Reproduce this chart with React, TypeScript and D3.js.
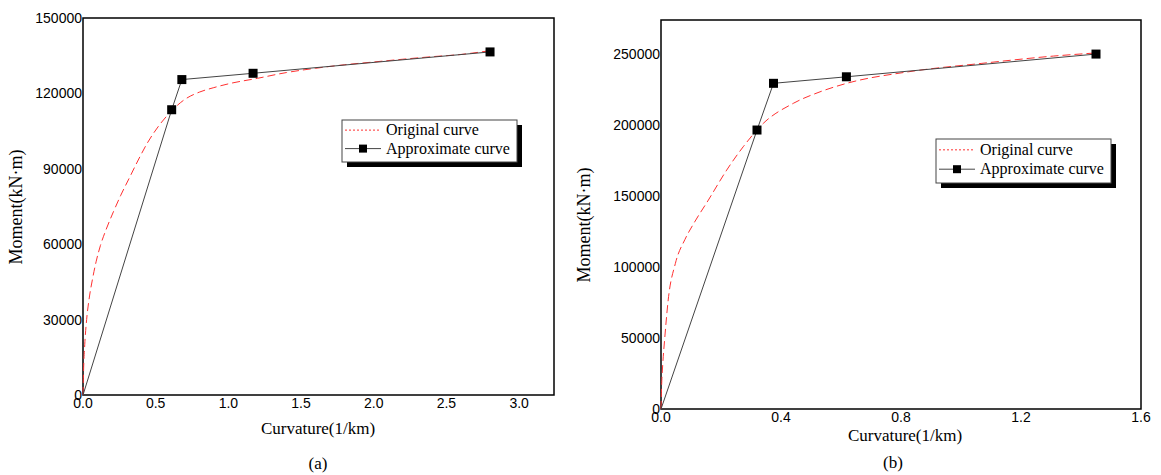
import React, { useRef, useEffect } from "react";
import * as d3 from "d3";

// panel (a): curvature (1/km) vs moment (kN·m)
const originalA: [number, number][] = [
  [0, 0], [0.004, 10000], [0.012, 20000], [0.025, 30000], [0.041, 37800],
  [0.065, 46000], [0.09, 53000], [0.12, 59500], [0.16, 66000], [0.21, 73000],
  [0.26, 79500], [0.32, 86500], [0.38, 93500], [0.44, 100000], [0.52, 107000],
  [0.6, 112500], [0.7, 117600], [0.8, 120500], [0.9, 122300], [1.0, 123800],
  [1.2, 126000], [1.4, 128300], [1.6, 130000], [1.8, 131400], [2.0, 132500],
  [2.2, 133600], [2.4, 134600], [2.6, 135500], [2.8, 137000],
];
const approxA: [number, number][] = [
  [0, 0], [0.61, 113500], [0.68, 125500], [1.17, 128000], [2.8, 136500],
];
const xTicksA = [0, 0.5, 1.0, 1.5, 2.0, 2.5, 3.0];
const yTicksA = [0, 30000, 60000, 90000, 120000, 150000];

// panel (b)
const originalB: [number, number][] = [
  [0, 0], [0.002, 15700], [0.006, 32000], [0.012, 48600], [0.024, 76800],
  [0.048, 102600], [0.08, 119500], [0.11, 131000], [0.158, 147200],
  [0.219, 168300], [0.274, 184700], [0.341, 201200], [0.441, 215300],
  [0.53, 223400], [0.619, 229400], [0.824, 237500], [1.067, 243400],
  [1.309, 248600], [1.45, 250800],
];
const approxB: [number, number][] = [
  [0, 0], [0.32, 196500], [0.375, 229400], [0.618, 234000], [1.45, 250000],
];
const xTicksB = [0, 0.4, 0.8, 1.2, 1.6];
const yTicksB = [0, 50000, 100000, 150000, 200000, 250000];

const legendLabels = ["Original curve", "Approximate curve"];
const panelLabels = ["(a)", "(b)"];
const xTitle = "Curvature(1/km)";
const yTitle = "Moment(kN·m)";

const SANS = "'Liberation Sans', Arial, sans-serif";
const SERIF = "'Liberation Serif', 'Times New Roman', serif";
const RED = "#ff3030";
const GREY = "#444";

type Panel = {
  left: number; top: number; right: number; bottom: number;
  xMax: number; yMax: number;
  xTicks: number[]; yTicks: number[];
  original: [number, number][]; approx: [number, number][];
  legend: { x: number; y: number; w: number; h: number };
  yTitleAt: [number, number];
  xTitleAt: [number, number];
  label: string; labelAt: [number, number];
};

const panels: Panel[] = [
  {
    left: 83, top: 18, right: 554, bottom: 395,
    xMax: 3.24, yMax: 150000,
    xTicks: xTicksA, yTicks: yTicksA,
    original: originalA, approx: approxA,
    legend: { x: 342, y: 120, w: 175, h: 42 },
    yTitleAt: [22, 207], xTitleAt: [318, 434],
    label: panelLabels[0], labelAt: [318, 469],
  },
  {
    left: 661, top: 20, right: 1141, bottom: 409,
    xMax: 1.6, yMax: 274000,
    xTicks: xTicksB, yTicks: yTicksB,
    original: originalB, approx: approxB,
    legend: { x: 936, y: 139, w: 175, h: 44 },
    yTitleAt: [590, 225], xTitleAt: [905, 441],
    label: panelLabels[1], labelAt: [893, 468],
  },
];

const drawPanel = (svg: d3.Selection<SVGSVGElement, unknown, null, undefined>, p: Panel) => {
  const g = svg.append("g");
  const x = d3.scaleLinear().domain([0, p.xMax]).range([p.left, p.right]);
  const y = d3.scaleLinear().domain([0, p.yMax]).range([p.bottom, p.top]);

  // frame
  g.append("rect")
    .attr("x", p.left).attr("y", p.top)
    .attr("width", p.right - p.left).attr("height", p.bottom - p.top)
    .attr("fill", "none").attr("stroke", "#000").attr("stroke-width", 1.5);

  // tick labels
  g.selectAll(".xt")
    .data(p.xTicks)
    .join("text")
    .attr("class", "xt")
    .attr("x", d => x(d))
    .attr("y", p.bottom + 13)
    .attr("text-anchor", "middle")
    .style("font-family", SANS).style("font-size", "14px")
    .text(d => d3.format(".1f")(d));

  g.selectAll(".yt")
    .data(p.yTicks)
    .join("text")
    .attr("class", "yt")
    .attr("x", p.left - 1)
    .attr("y", d => y(d))
    .attr("dy", "0.35em")
    .attr("text-anchor", "end")
    .style("font-family", SANS).style("font-size", "14px")
    .text(d => String(d));

  // curves
  const line = d3.line<[number, number]>().x(d => x(d[0])).y(d => y(d[1]));

  g.append("path")
    .attr("d", line.curve(d3.curveMonotoneX)(p.original))
    .attr("fill", "none").attr("stroke", RED)
    .attr("stroke-width", 1).attr("stroke-dasharray", "8,4");

  g.append("path")
    .attr("d", line.curve(d3.curveLinear)(p.approx))
    .attr("fill", "none").attr("stroke", GREY).attr("stroke-width", 1);

  g.selectAll(".mk")
    .data(p.approx.slice(1))
    .join("rect")
    .attr("class", "mk")
    .attr("x", d => x(d[0]) - 4.5)
    .attr("y", d => y(d[1]) - 4.5)
    .attr("width", 9).attr("height", 9)
    .attr("fill", "#000");

  // legend
  const L = p.legend;
  g.append("rect")
    .attr("x", L.x + 5).attr("y", L.y + 5).attr("width", L.w).attr("height", L.h)
    .attr("fill", "#000");
  g.append("rect")
    .attr("x", L.x).attr("y", L.y).attr("width", L.w).attr("height", L.h)
    .attr("fill", "#fff").attr("stroke", GREY).attr("stroke-width", 1);

  const row1 = L.y + L.h * 0.36;
  const row2 = L.y + L.h * 0.8;
  g.append("line")
    .attr("x1", L.x + 3).attr("x2", L.x + 39).attr("y1", row1 - 5).attr("y2", row1 - 5)
    .attr("stroke", RED).attr("stroke-width", 1).attr("stroke-dasharray", "2,2");
  g.append("line")
    .attr("x1", L.x + 3).attr("x2", L.x + 39).attr("y1", row2 - 5).attr("y2", row2 - 5)
    .attr("stroke", GREY).attr("stroke-width", 1);
  g.append("rect")
    .attr("x", L.x + 21 - 4).attr("y", row2 - 5 - 4).attr("width", 8).attr("height", 8)
    .attr("fill", "#000");
  g.selectAll(".lg")
    .data(legendLabels)
    .join("text")
    .attr("class", "lg")
    .attr("x", L.x + 44)
    .attr("y", (d, i) => (i === 0 ? row1 : row2))
    .style("font-family", SERIF).style("font-size", "16px")
    .text(d => d);

  // titles
  g.append("text")
    .attr("transform", `translate(${p.yTitleAt[0]},${p.yTitleAt[1]}) rotate(-90)`)
    .attr("text-anchor", "middle")
    .style("font-family", SERIF).style("font-size", "18px")
    .text(yTitle);
  g.append("text")
    .attr("x", p.xTitleAt[0]).attr("y", p.xTitleAt[1])
    .attr("text-anchor", "middle")
    .style("font-family", SERIF).style("font-size", "17px")
    .text(xTitle);
  g.append("text")
    .attr("x", p.labelAt[0]).attr("y", p.labelAt[1])
    .attr("text-anchor", "middle")
    .style("font-family", SERIF).style("font-size", "17px")
    .text(p.label);
};

const App = () => {
  const svgRef = useRef<SVGSVGElement>(null);

  useEffect(() => {
    const svg = d3.select(svgRef.current as SVGSVGElement);
    svg.selectAll("*").remove();
    panels.forEach(p => drawPanel(svg, p));
  }, []);

  return (
    <svg
      ref={svgRef}
      width={1161}
      height={475}
      style={{ position: "absolute", left: 0, top: 0, background: "#fff" }}
    />
  );
};

export default App;
